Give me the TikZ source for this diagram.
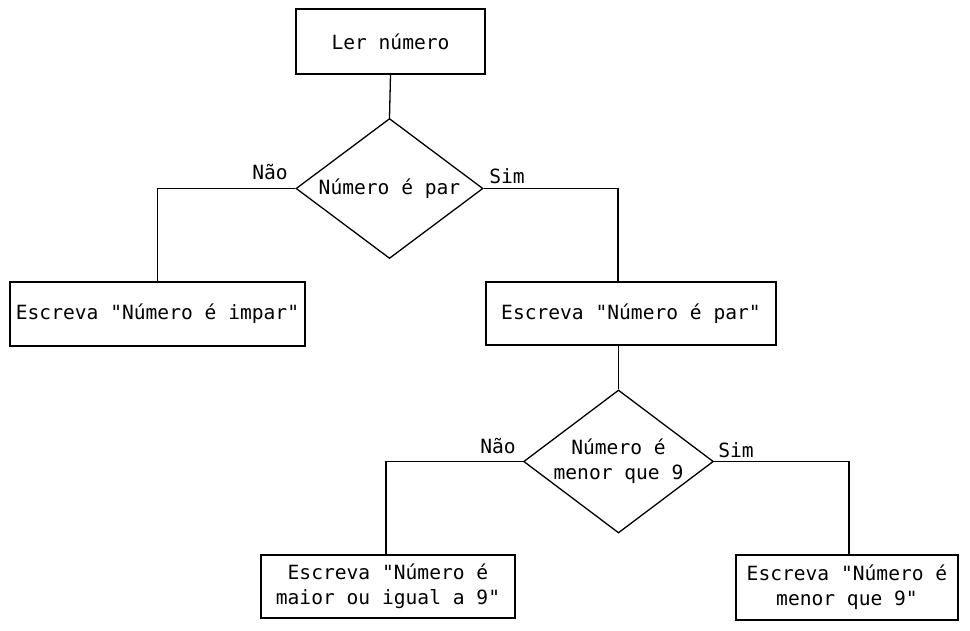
\documentclass[tikz,border=0pt]{standalone}
\usepackage{fontspec}
\setmonofont{DejaVu Sans Mono}
\usetikzlibrary{shapes.geometric}
\tikzset{
  every node/.style={font=\ttfamily\fontsize{19.6}{25}\selectfont},
  procbox/.style={draw, line width=1.3pt, rectangle, inner sep=0pt, align=center},
  decision/.style={draw, line width=1.3pt, diamond, aspect=1.34, inner sep=0pt, align=center},
  lbl/.style={inner sep=0pt},
  link/.style={line width=1.3pt}
}
\begin{document}
\begin{tikzpicture}[x=1pt,y=-1pt]
\useasboundingbox (0,0) rectangle (970,630);
\node[procbox, minimum width=189pt, minimum height=65pt] (b1) at (390.5,41.5) {Ler número};
\node[decision, minimum width=187pt, minimum height=140pt] (d1) at (389.5,188.5) {Número é par};
\node[procbox, minimum width=295pt, minimum height=64pt] (b2) at (157.5,314) {Escreva "Número é impar"};
\node[procbox, minimum width=290pt, minimum height=63pt] (b3) at (631,313.5) {Escreva "Número é par"};
\node[decision, minimum width=187pt, minimum height=143pt] (d2) at (618.5,461.5) {Número é\\menor que 9};
\node[procbox, minimum width=254pt, minimum height=63pt] (b4) at (388,586.5) {Escreva "Número é\\maior ou igual a 9"};
\node[procbox, minimum width=222pt, minimum height=65pt] (b5) at (847,587.5) {Escreva "Número é\\menor que 9"};

\node[lbl] (n1) at (270,172) {Não};
\node[lbl] (s1) at (507,176) {Sim};
\node[lbl] (n2) at (498,446) {Não};
\node[lbl] (s2) at (736,450) {Sim};

\coordinate (c1) at (618,282);
\coordinate (c2) at (849,555);
\draw[link] (b1.south) -- (d1.north);
\draw[link] (d1.west) -| (b2.north);
\draw[link] (d1.east) -| (c1);
\draw[link] (b3.south -| d2.north) -- (d2.north);
\draw[link] (d2.west) -| (b4.north -| 386,0);
\draw[link] (d2.east) -| (c2);
\end{tikzpicture}
\end{document}
